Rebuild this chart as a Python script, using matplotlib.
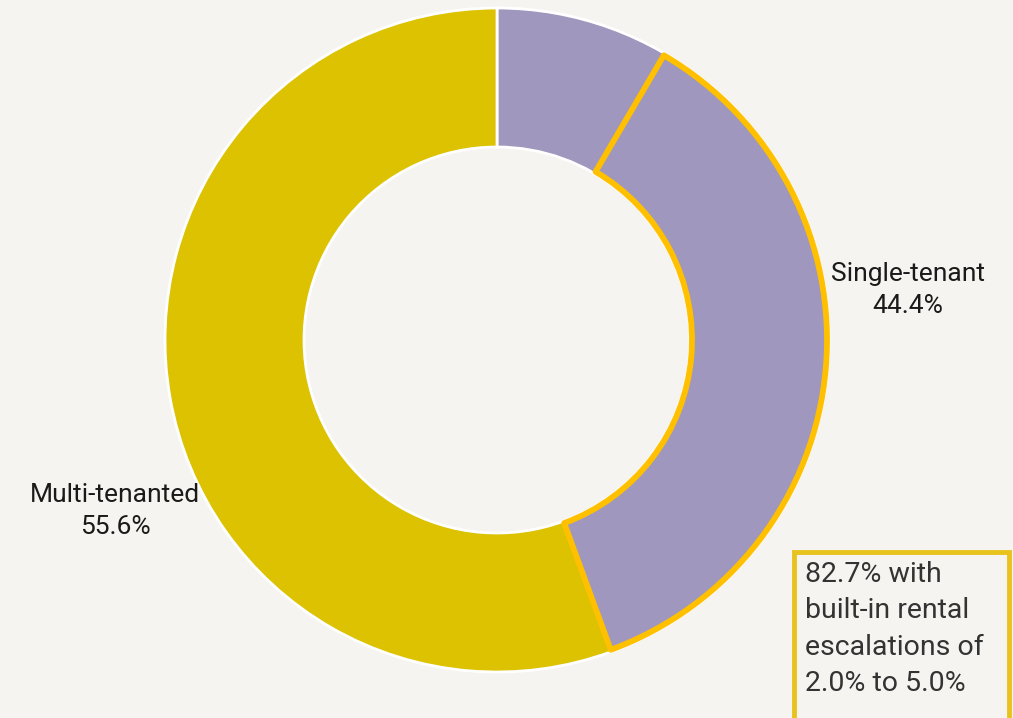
import matplotlib
matplotlib.use('Agg')
from matplotlib import pyplot as plt
from matplotlib.patches import Wedge, Rectangle

# data
labels = ['Single-tenant', 'Multi-tenanted']
shares = [44.4, 55.6]
colors = ['#9F97BD', '#DCC200']
# part of single-tenant slice with built-in escalations (as drawn)
highlight_frac = 0.81
note = '82.7% with\nbuilt-in rental\nescalations of\n2.0% to 5.0%'

bg = '#F5F4F0'
plt.rcParams['font.family'] = ['Roboto', 'DejaVu Sans']

fig = plt.figure(figsize=(10.13, 7.18), dpi=100, facecolor=bg)
ax = fig.add_axes([0, 0, 1, 1])
ax.set_facecolor(bg)

cx, cy, R, W = 497, 378, 332, 139
wedges, _ = ax.pie(shares, colors=colors, startangle=90, counterclock=False,
                   center=(cx, cy), radius=R, frame=True,
                   wedgeprops=dict(width=W, edgecolor='white', linewidth=2))
ax.set_xlim(0, 1013)
ax.set_ylim(0, 718)
ax.set_aspect('equal')
ax.axis('off')

# outline the highlighted part of the single-tenant slice
end_deg = 90 - shares[0] / 100 * 360
start_deg = 90 - shares[0] * (1 - highlight_frac) / 100 * 360
hl = Wedge((cx, cy), R - 2, end_deg, start_deg, width=W - 4, fill=False,
           edgecolor='#FFC000', linewidth=4.2, joinstyle='round')
ax.add_patch(hl)

txt = dict(fontsize=19, linespacing=1.45)
ax.text(908, 428, labels[0] + '\n44.4%', ha='center', va='center',
        color='#1a1a1a', **txt)
ax.text(115, 207, labels[1] + '\n55.6%', ha='center', va='center',
        color='#1a1a1a', **txt)

box = Rectangle((794, -10), 215, 176, fill=False, edgecolor='#E8C31E',
                linewidth=3.5)
ax.add_patch(box)
ax.text(805, 157, note, ha='left', va='top', fontsize=20.5,
        color='#333333', linespacing=1.45)

fig.savefig('out.png', dpi=100, facecolor=bg)
